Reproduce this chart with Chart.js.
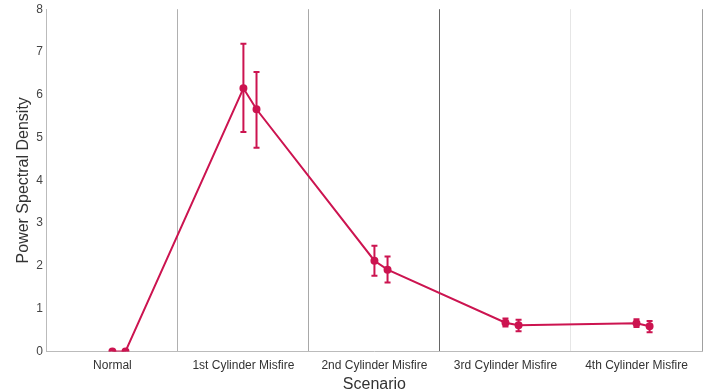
<!DOCTYPE html>
<html>
<head>
<meta charset="utf-8">
<script src="https://cdn.jsdelivr.net/npm/chart.js@4.4.1/dist/chart.umd.min.js"></script>
<style>
  html, body { margin: 0; padding: 0; background: #fff; overflow: hidden; }
  #chart { display: block; margin-top: -2px; }
</style>
</head>
<body>
<canvas id="chart" width="709" height="394"></canvas>
<script>
// categories and series
const categories = ['Normal', '1st Cylinder Misfire', '2nd Cylinder Misfire', '3rd Cylinder Misfire', '4th Cylinder Misfire'];
const seriesA = [0, 6.15, 2.12, 0.67, 0.66];
const seriesB = [0, 5.66, 1.91, 0.61, 0.59];
const errLowA = [null, 5.13, 1.77, 0.58, 0.57];
const errHighA = [null, 7.19, 2.47, 0.77, 0.75];
const errLowB = [null, 4.76, 1.61, 0.47, 0.45];
const errHighB = [null, 6.53, 2.22, 0.74, 0.71];
const yTicks = [0, 1, 2, 3, 4, 5, 6, 7, 8];
const dodge = 0.1;

const lineColor = '#cc1450';

// separator colours between categories (at i + 0.5)
const sepColors = { '0.5': '#b0b0b0', '1.5': '#a8a8a8', '2.5': '#666666', '3.5': '#e6e6e6', '4.5': '#a0a0a0' };

const points = [];
const lows = [];
const highs = [];
categories.forEach((c, i) => {
    points.push({ x: i, y: seriesA[i] });
    lows.push(errLowA[i]); highs.push(errHighA[i]);
    points.push({ x: i + dodge, y: seriesB[i] });
    lows.push(errLowB[i]); highs.push(errHighB[i]);
});

// draws the error bars with the chart's scales
const errorBars = {
    id: 'errorBars',
    afterDatasetsDraw(chart) {
        const ctx = chart.ctx;
        const xs = chart.scales.x, ys = chart.scales.y;
        ctx.save();
        ctx.strokeStyle = lineColor;
        ctx.lineWidth = 2;
        points.forEach((p, i) => {
            if (lows[i] == null) return;
            const px = xs.getPixelForValue(p.x);
            const top = ys.getPixelForValue(highs[i]);
            const bot = ys.getPixelForValue(lows[i]);
            ctx.beginPath();
            ctx.moveTo(px, top); ctx.lineTo(px, bot);
            ctx.moveTo(px - 3, top); ctx.lineTo(px + 3, top);
            ctx.moveTo(px - 3, bot); ctx.lineTo(px + 3, bot);
            ctx.stroke();
        });
        ctx.restore();
    }
};

const chart = new Chart(document.getElementById('chart'), {
    type: 'scatter',
    data: {
        datasets: [{
            data: points,
            showLine: true,
            borderColor: lineColor,
            backgroundColor: lineColor,
            borderWidth: 2,
            pointRadius: 3,
            pointHoverRadius: 3,
            tension: 0
        }]
    },
    options: {
        responsive: false,
        animation: false,
        events: [],
        layout: { padding: { left: 14, right: 5, top: 0, bottom: -2 } },
        plugins: { legend: { display: false }, tooltip: { enabled: false } },
        scales: {
            x: {
                type: 'linear',
                min: -0.5,
                max: 4.5,
                afterBuildTicks(scale) {
                    const t = [];
                    for (let v = -0.5; v <= 4.5; v += 0.5) t.push({ value: v });
                    scale.ticks = t;
                },
                ticks: {
                    autoSkip: false,
                    maxRotation: 0,
                    color: '#333',
                    font: { family: 'Liberation Sans', size: 12 },
                    padding: 7,
                    callback: (v) => Number.isInteger(v) ? categories[v] : ''
                },
                grid: {
                    drawTicks: false,
                    lineWidth: 1,
                    color: (ctx) => {
                        const v = ctx.tick ? ctx.tick.value : null;
                        return sepColors[String(v)] || 'rgba(0,0,0,0)';
                    }
                },
                border: { color: '#bbbbbb', width: 1 },
                title: {
                    display: true,
                    text: 'Scenario',
                    color: '#333',
                    font: { family: 'Liberation Sans', size: 16 },
                    padding: { top: -5, bottom: 0 }
                }
            },
            y: {
                min: 0,
                max: 8,
                afterBuildTicks(scale) {
                    scale.ticks = yTicks.map(v => ({ value: v }));
                },
                ticks: {
                    color: '#444',
                    font: { family: 'Liberation Sans', size: 12 },
                    padding: 4
                },
                grid: { display: false, drawTicks: false },
                border: { color: '#bbbbbb', width: 1 },
                title: {
                    display: true,
                    text: 'Power Spectral Density',
                    color: '#333',
                    font: { family: 'Liberation Sans', size: 16 },
                    padding: { top: 0, bottom: -1 }
                }
            }
        }
    },
    plugins: [errorBars]
});
</script>
</body>
</html>
